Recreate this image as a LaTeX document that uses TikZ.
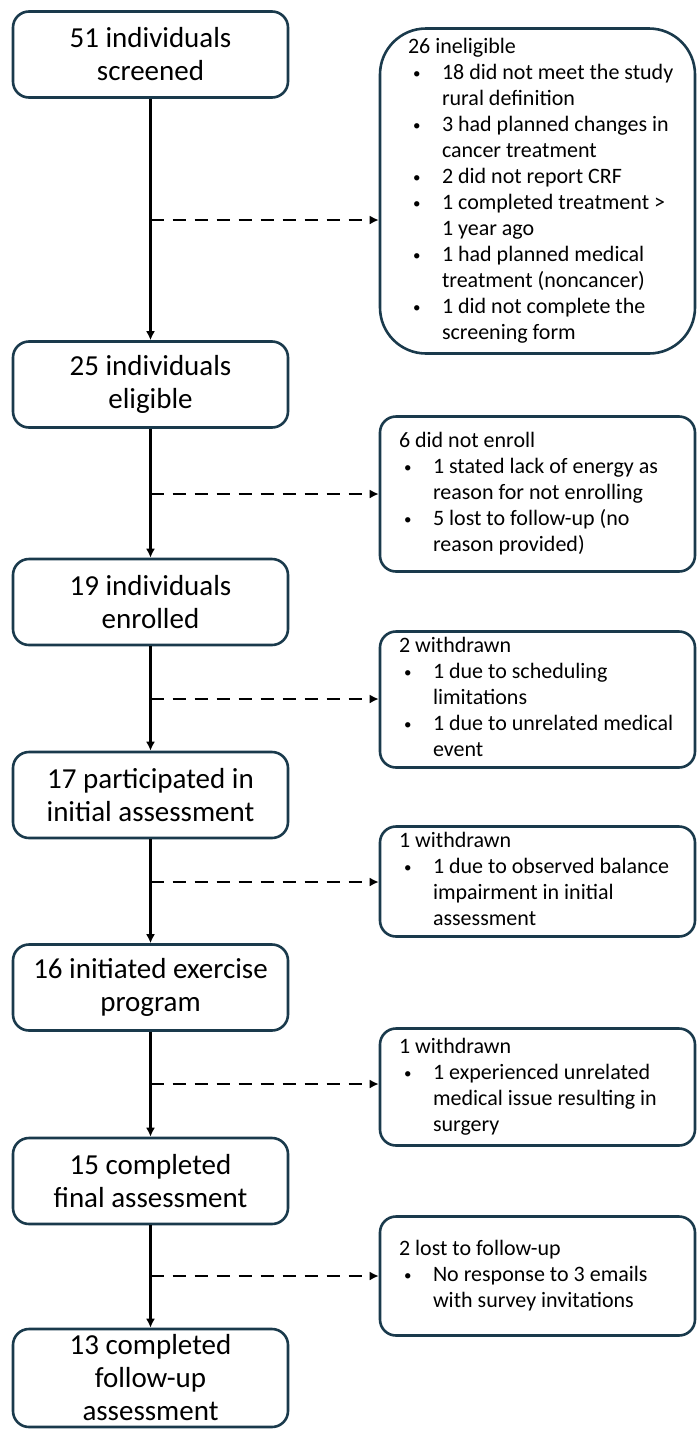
\documentclass[tikz,border=0pt]{standalone}
\usepackage{fontspec}
\setmainfont{Carlito}
\usetikzlibrary{arrows.meta,calc}
\definecolor{bordercol}{HTML}{1A3A4C}
\newlength\bulpre \setlength\bulpre{5pt}
\newlength\bulind \setlength\bulind{34pt}
\newcommand\bitem[1]{\makebox[\bulind][l]{\hspace*{\bulpre}{\fontsize{15}{15}\selectfont\raisebox{1pt}{\textbullet}}}#1}
\newcommand\bcont[1]{\hspace*{\bulind}#1}
\newcommand\rlines[2]{\makebox[#1][l]{\begin{tabular}{@{}l@{}}#2\end{tabular}}}
\begin{document}
\begin{tikzpicture}[x=1pt,y=-1pt,
  lbox/.style={draw=bordercol, line width=2.6pt, rounded corners=16pt,
    minimum width=275pt, minimum height=86pt, align=center,
    font=\fontsize{29}{33}\selectfont, inner sep=2pt},
  rbox/.style={draw=bordercol, line width=2.6pt, rounded corners=16pt,
    minimum width=315pt, inner xsep=19pt, inner ysep=3pt,
    font=\fontsize{22}{26}\selectfont},
  conn/.style={line width=2.6pt, black, -{Latex[length=9pt,width=9pt]}},
  dconn/.style={conn, dash pattern=on 13pt off 9pt}]
\useasboundingbox (0,0) rectangle (697,1430);

% main flow boxes
\node[lbox] (l1) at (150.5,54.5) {51 individuals\\screened};
\node[lbox] (l2) at (150.5,384.5) {25 individuals\\eligible};
\node[lbox] (l3) at (150.5,602) {19 individuals\\enrolled};
\node[lbox] (l4) at (150.5,795) {17 participated in\\initial assessment};
\node[lbox] (l5) at (150.5,987.5) {16 initiated exercise\\program};
\node[lbox] (l6) at (150.5,1181) {15 completed\\final assessment};
\node[lbox, minimum height=98pt] (l7) at (150.5,1378) {13 completed\\follow-up\\assessment};

% exclusion boxes
\node[rbox, rounded corners=46pt, inner xsep=28pt, minimum height=325pt] (r1) at (537.5,191) {\rlines{259pt}{26 ineligible\\
\bitem{18 did not meet the study}\\
\bcont{rural definition}\\
\bitem{3 had planned changes in}\\
\bcont{cancer treatment}\\
\bitem{2 did not report CRF}\\
\bitem{1 completed treatment >}\\
\bcont{1 year ago}\\
\bitem{1 had planned medical}\\
\bcont{treatment (noncancer)}\\
\bitem{1 did not complete the}\\
\bcont{screening form}}};

\node[rbox, minimum height=155pt] (r2) at (537.5,494) {\rlines{277pt}{6 did not enroll\\
\bitem{1 stated lack of energy as}\\
\bcont{reason for not enrolling}\\
\bitem{5 lost to follow-up (no}\\
\bcont{reason provided)}}};

\node[rbox, minimum height=132pt] (r3) at (537.5,699.5) {\rlines{277pt}{2 withdrawn\\
\bitem{1 due to scheduling}\\
\bcont{limitations}\\
\bitem{1 due to unrelated medical}\\
\bcont{event}}};

\node[rbox, minimum height=106pt] (r4) at (537.5,881.5) {\rlines{277pt}{1 withdrawn\\
\bitem{1 due to observed balance}\\
\bcont{impairment in initial}\\
\bcont{assessment}}};

\node[rbox, minimum height=117pt] (r5) at (537.5,1087) {\rlines{277pt}{1 withdrawn\\
\bitem{1 experienced unrelated}\\
\bcont{medical issue resulting in}\\
\bcont{surgery}}};

\node[rbox, minimum height=119pt] (r6) at (537.5,1276) {\rlines{277pt}{2 lost to follow-up\\
\bitem{No response to 3 emails}\\
\bcont{with survey invitations}}};

% branch points
\coordinate (m1) at (150.5,220);
\coordinate (m2) at (150.5,494);
\coordinate (m3) at (150.5,699);
\coordinate (m4) at (150.5,882);
\coordinate (m5) at (150.5,1084);
\coordinate (m6) at (150.5,1276);

% vertical connectors
\draw[conn] (l1.south) -- (l2.north);
\draw[conn] (l2.south) -- (l3.north);
\draw[conn] (l3.south) -- (l4.north);
\draw[conn] (l4.south) -- (l5.north);
\draw[conn] (l5.south) -- (l6.north);
\draw[conn] (l6.south) -- (l7.north);

% dashed connectors
\draw[dconn] (m1) -- (m1 -| r1.west);
\draw[dconn] (m2) -- (m2 -| r2.west);
\draw[dconn] (m3) -- (m3 -| r3.west);
\draw[dconn] (m4) -- (m4 -| r4.west);
\draw[dconn] (m5) -- (m5 -| r5.west);
\draw[dconn] (m6) -- (m6 -| r6.west);
\end{tikzpicture}
\end{document}
